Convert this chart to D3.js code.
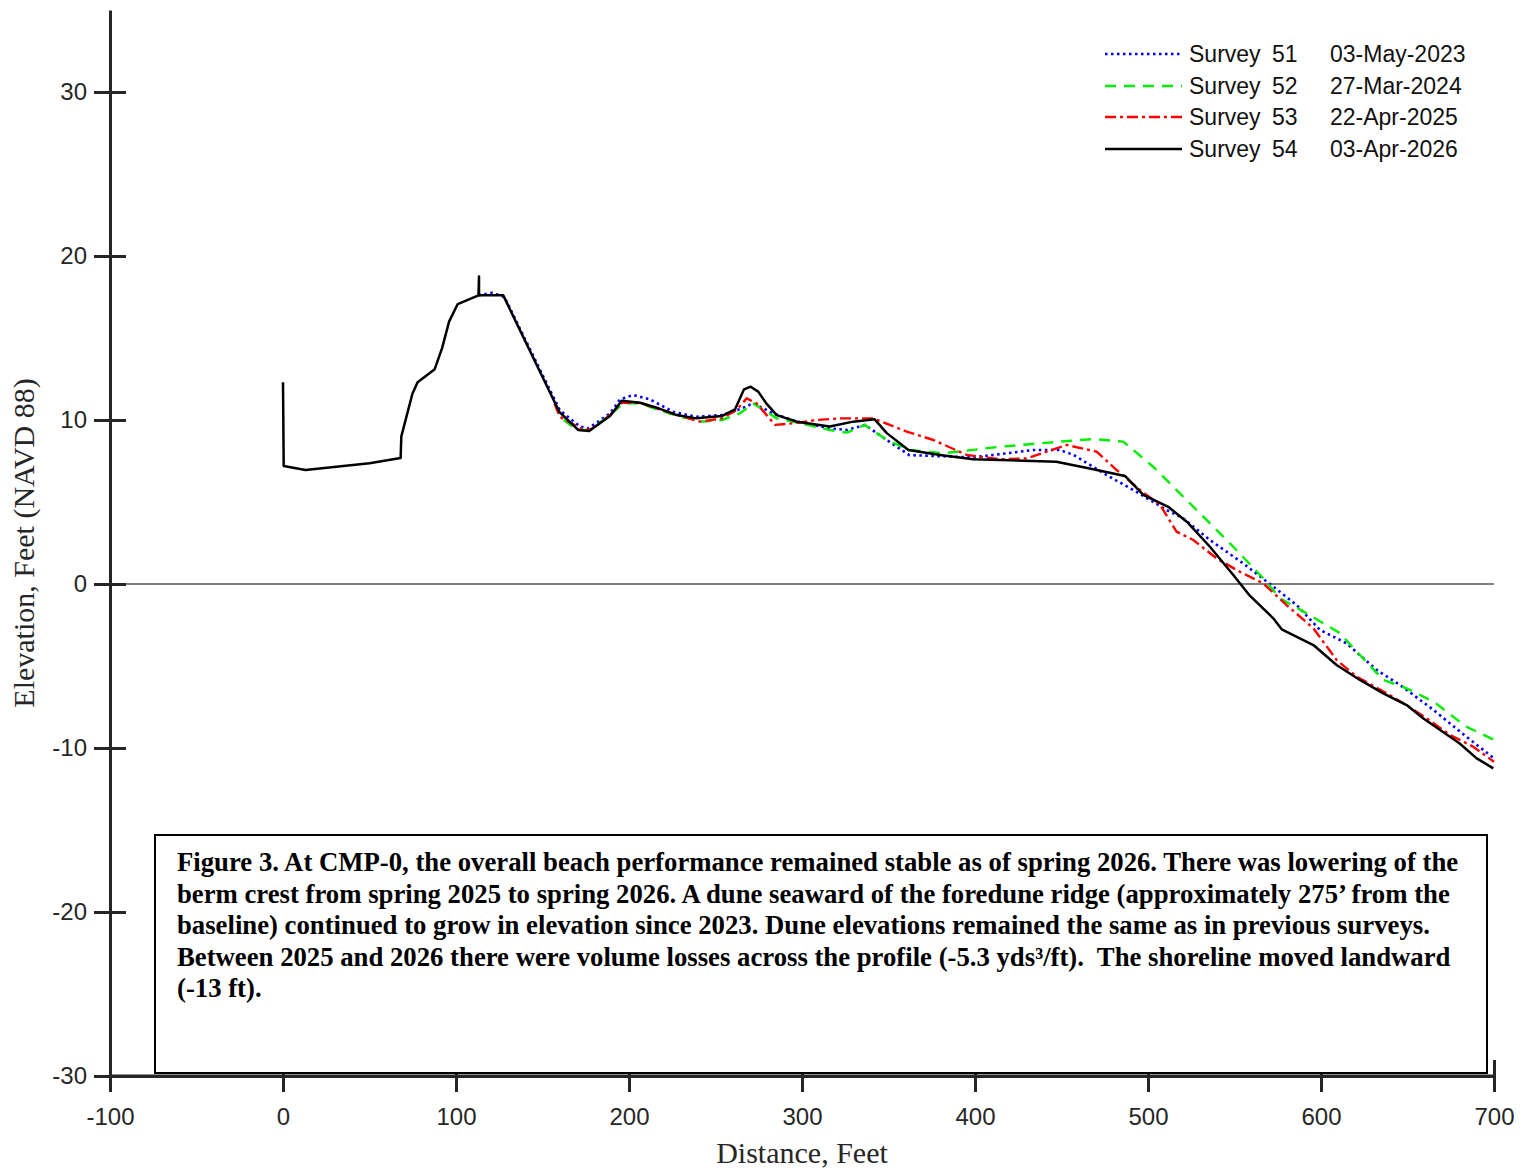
<!DOCTYPE html>
<html>
<head>
<meta charset="utf-8">
<script src="https://cdn.jsdelivr.net/npm/d3@7"></script>
<style>
  html, body { margin: 0; padding: 0; background: #fff; }
  svg { display: block; }
</style>
</head>
<body>
<svg id="chart" width="1528" height="1171"></svg>
<script>
// ---------- data ----------
const xTicks = [-100, 0, 100, 200, 300, 400, 500, 600, 700];
const yTicks = [-30, -20, -10, 0, 10, 20, 30];

const surveyNums = ["51", "52", "53", "54"];
const surveyDates = ["03-May-2023", "27-Mar-2024", "22-Apr-2025", "03-Apr-2026"];

const s51x = [113, 121, 128, 160, 171.7, 176.5, 189, 194.8, 202.5, 212, 225.6, 239, 253.6, 264, 271.8, 283.4, 297, 316, 325.8, 336.4, 349, 362, 399, 433.7, 449, 457, 476, 491.5, 510.8, 520.4, 535.8, 555, 572.4, 585.9, 599.4, 614.8, 632.2, 645.7, 665, 684, 700];
const s51y = [17.6, 17.76, 17.5, 10.6, 9.6, 9.49, 10.4, 11.26, 11.52, 11.26, 10.5, 10.2, 10.3, 10.65, 11.02, 10.4, 9.9, 9.49, 9.39, 9.7, 8.78, 7.86, 7.72, 8.17, 8.17, 7.87, 6.65, 5.73, 4.51, 4.0, 2.68, 1.26, -0.16, -1.28, -2.8, -3.62, -5.24, -6.16, -7.68, -9.31, -10.63];

const s52x = [157, 160, 166, 171.7, 177.5, 189, 196.7, 206.4, 216, 229.5, 243, 253.6, 264, 271.8, 285.4, 299, 316, 325.8, 336.4, 349, 362.4, 381.7, 414.5, 449, 468.4, 485.7, 503, 520.4, 530, 549.3, 566.6, 576.3, 591.7, 611, 618.8, 636, 649.5, 665, 684, 700];
const s52y = [11.0, 10.2, 9.7, 9.39, 9.39, 10.3, 11.02, 11.02, 10.65, 10.2, 9.9, 10.0, 10.4, 11.0, 10.1, 9.8, 9.39, 9.23, 9.7, 8.78, 8.17, 7.97, 8.37, 8.68, 8.84, 8.68, 7.15, 5.32, 4.31, 2.27, 0.35, -0.87, -1.79, -3.0, -3.92, -5.85, -6.36, -7.17, -8.7, -9.5];

const s53x = [157, 160, 171.7, 177.5, 189, 195.8, 206.4, 216, 229.5, 241, 253.6, 262.2, 268, 273.7, 284.4, 295, 308.5, 322, 341.2, 360.5, 376, 395.2, 414.5, 429.8, 441.4, 453, 470.3, 481.9, 495.4, 507, 516.5, 526.2, 539.7, 553, 566.6, 580, 595.6, 609, 620.6, 638, 647.6, 661, 674.5, 688, 700];
const s53y = [11.0, 10.2, 9.5, 9.39, 10.3, 11.05, 11.05, 10.7, 10.26, 9.9, 10.1, 10.6, 11.32, 11.02, 9.7, 9.8, 10.0, 10.1, 10.1, 9.29, 8.78, 7.87, 7.6, 7.66, 8.07, 8.48, 8.07, 6.95, 5.73, 4.82, 3.19, 2.68, 1.56, 0.75, 0.04, -1.28, -2.7, -4.63, -5.65, -6.67, -7.27, -8.19, -9.2, -9.92, -10.84];

const s54x = [0, 0.4, 13, 50, 68, 68.4, 74.8, 77.8, 87.7, 92, 96, 101, 113, 113.3, 113.3, 127.3, 159.7, 170.7, 177, 189, 195.8, 206.4, 216, 227.6, 239, 253.6, 261.3, 266.5, 270.3, 274.7, 279.6, 285.4, 297, 316, 329.6, 342, 349, 361.5, 379.8, 399, 447, 468.4, 486.7, 497.3, 511.7, 522.4, 535.8, 549.3, 559, 572.4, 577.3, 595.6, 609, 622.5, 636, 649.5, 659, 680, 690, 699.6];
const s54y = [12.3, 7.2, 6.95, 7.36, 7.68, 9.0, 11.6, 12.3, 13.1, 14.4, 16.0, 17.07, 17.6, 18.75, 17.6, 17.6, 10.5, 9.39, 9.33, 10.24, 11.18, 11.05, 10.75, 10.3, 10.1, 10.24, 10.65, 11.87, 12.03, 11.73, 10.98, 10.3, 9.9, 9.6, 9.9, 10.04, 9.2, 8.17, 7.87, 7.6, 7.46, 7.0, 6.59, 5.43, 4.71, 3.8, 2.27, 0.55, -0.73, -2.09, -2.76, -3.72, -4.94, -5.85, -6.67, -7.38, -8.19, -9.71, -10.63, -11.24];

const captionLines = [
  "Figure 3. At CMP-0, the overall beach performance remained stable as of spring 2026. There was lowering of the",
  "berm crest from spring 2025 to spring 2026. A dune seaward of the foredune ridge (approximately 275\u2019 from the",
  "baseline) continued to grow in elevation since 2023. Dune elevations remained the same as in previous surveys.",
  "Between 2025 and 2026 there were volume losses across the profile (-5.3 yds\u00B3/ft).  The shoreline moved landward",
  "(-13 ft)."
];

// ---------- styles ----------
const series = [
  { x: s51x, y: s51y, color: "#0000ff", dash: "2.5,3.5", width: 2.6 },
  { x: s52x, y: s52y, color: "#00ee00", dash: "11,8", width: 2.4 },
  { x: s53x, y: s53y, color: "#ff0000", dash: "11,4,3,4", width: 2.4 },
  { x: s54x, y: s54y, color: "#000000", dash: null, width: 2.5 }
];

const svg = d3.select("#chart");
const x = d3.scaleLinear().domain([-100, 700]).range([110, 1494]);
const y = d3.scaleLinear().domain([-30, 35]).range([1076, 10]);

// zero line
svg.append("line")
  .attr("x1", x(-100)).attr("x2", x(700))
  .attr("y1", y(0)).attr("y2", y(0))
  .attr("stroke", "#555").attr("stroke-width", 1.6);

// profiles
const line = d3.line().x(d => x(d[0])).y(d => y(d[1]));
series.forEach(s => {
  const pts = s.x.map((v, i) => [v, s.y[i]]);
  svg.append("path")
    .attr("d", line(pts))
    .attr("fill", "none")
    .attr("stroke", s.color)
    .attr("stroke-width", s.width)
    .attr("stroke-linejoin", "round")
    .attr("stroke-dasharray", s.dash);
});

// axes
const tickFont = "'Liberation Sans', Arial, sans-serif";
const axColor = "#262626";

const gy = svg.append("g").attr("transform", `translate(${x(-100)},0)`)
  .call(d3.axisLeft(y).tickValues(yTicks).tickSizeInner(16).tickSizeOuter(0).tickPadding(7).tickFormat(d3.format("d")));
gy.selectAll(".tick line").attr("x1", 16);

const gx = svg.append("g").attr("transform", `translate(0,${y(-30)})`)
  .call(d3.axisBottom(x).tickValues(xTicks).tickSizeInner(16).tickSizeOuter(0).tickPadding(16).tickFormat(d3.format("d")));
gx.selectAll(".tick line").attr("y1", -16);

[gy, gx].forEach(g => {
  g.select(".domain").attr("stroke", axColor).attr("stroke-width", 3);
  g.selectAll(".tick line").attr("stroke", axColor).attr("stroke-width", 3);
  g.selectAll(".tick text").attr("fill", axColor).style("font-family", tickFont).style("font-size", "24px");
});
gx.selectAll(".tick text").text(d => d < 0 ? "-" + Math.abs(d) : d);
gy.selectAll(".tick text").text(d => d < 0 ? "-" + Math.abs(d) : d);

// axis labels
svg.append("text")
  .attr("x", 802).attr("y", 1163)
  .attr("text-anchor", "middle")
  .style("font-family", "'Liberation Serif', 'Times New Roman', serif")
  .style("font-size", "30px").attr("fill", axColor)
  .text("Distance, Feet");

svg.append("text")
  .attr("transform", "translate(34,543) rotate(-90)")
  .attr("text-anchor", "middle")
  .style("font-family", "'Liberation Serif', 'Times New Roman', serif")
  .style("font-size", "30px").attr("fill", axColor)
  .text("Elevation, Feet (NAVD 88)");

// legend
const legRowY = [54, 86, 117, 149];
const leg = svg.append("g");
series.forEach((s, i) => {
  leg.append("line")
    .attr("x1", 1105).attr("x2", 1182)
    .attr("y1", legRowY[i]).attr("y2", legRowY[i])
    .attr("stroke", s.color).attr("stroke-width", s.width)
    .attr("stroke-dasharray", s.dash);
  const t = leg.append("text")
    .attr("y", legRowY[i] + 8)
    .style("font-family", tickFont).style("font-size", "23px").attr("fill", "#111");
  t.append("tspan").attr("x", 1189).text("Survey");
  t.append("tspan").attr("x", 1272).text(surveyNums[i]);
  t.append("tspan").attr("x", 1330).text(surveyDates[i]);
});

// caption box
svg.append("rect")
  .attr("x", 155).attr("y", 835).attr("width", 1332).attr("height", 238)
  .attr("fill", "#fff").attr("stroke", "#000").attr("stroke-width", 2);

const cap = svg.append("g")
  .style("font-family", "'Liberation Serif', 'Times New Roman', serif")
  .style("font-weight", "bold").style("white-space", "pre").attr("fill", "#000");
const capTexts = captionLines.map((s, i) =>
  cap.append("text").attr("x", 177).attr("y", 871 + i * 31.5)
    .attr("xml:space", "preserve").style("font-size", "24px").text(s));
// fit first line to reference width
const w0 = capTexts[0].node().getComputedTextLength();
const fs = 24 * 1281 / w0;
capTexts.forEach(t => t.style("font-size", fs.toFixed(2) + "px"));

// redraw bottom axis line over box edge
svg.append("line")
  .attr("x1", x(-100)).attr("x2", x(700))
  .attr("y1", y(-30)).attr("y2", y(-30))
  .attr("stroke", axColor).attr("stroke-width", 3);
</script>
</body>
</html>
